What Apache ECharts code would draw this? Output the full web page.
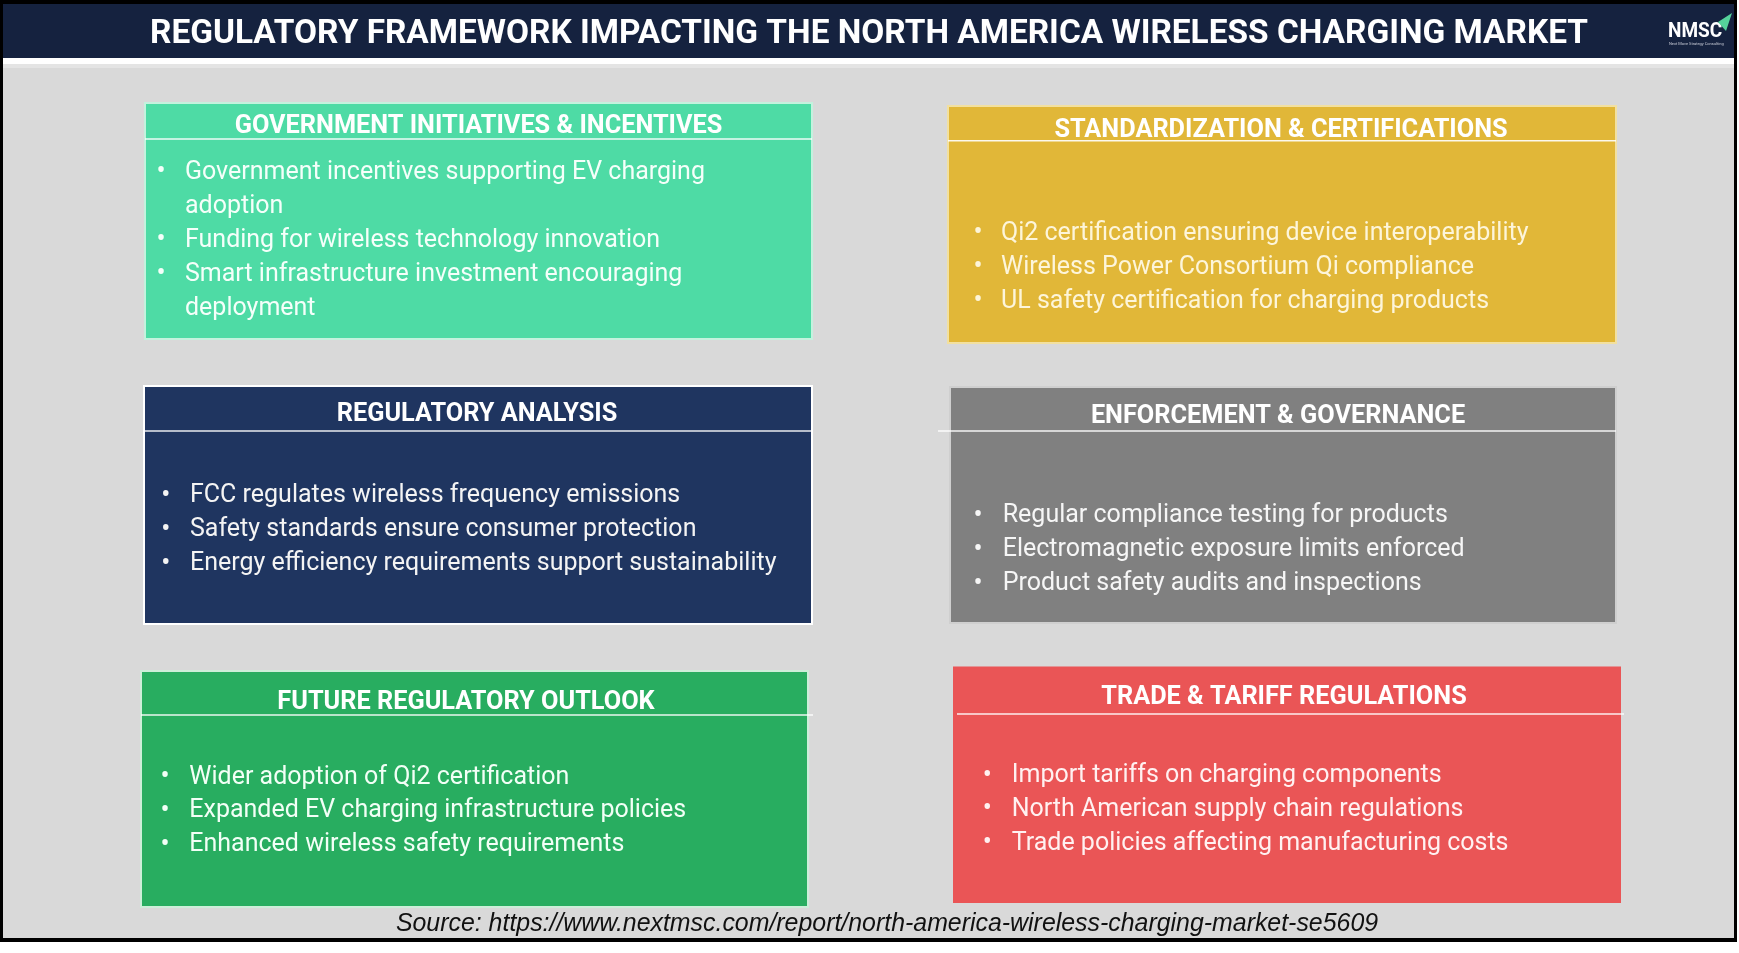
<!DOCTYPE html>
<html><head><meta charset="utf-8">
<script src="https://cdn.jsdelivr.net/npm/echarts@6/dist/echarts.min.js"></script>
<style>html,body{margin:0;padding:0;background:#fff;overflow:hidden}#c{width:1739px;height:953px}</style>
</head><body><div id="c"></div>
<script>
// ---------- content ----------
const titleText = "REGULATORY FRAMEWORK IMPACTING THE NORTH AMERICA WIRELESS CHARGING MARKET";
const sourceText = "Source: https://www.nextmsc.com/report/north-america-wireless-charging-market-se5609";
const logoText = "NMSC";
const logoSub = "Next Move Strategy Consulting";

const boxTitles = [
  "GOVERNMENT INITIATIVES & INCENTIVES",
  "STANDARDIZATION & CERTIFICATIONS",
  "REGULATORY ANALYSIS",
  "ENFORCEMENT & GOVERNANCE",
  "FUTURE REGULATORY OUTLOOK",
  "TRADE & TARIFF REGULATIONS"
];
const govBullets = [
  "Government incentives supporting EV charging adoption",
  "Funding for wireless technology innovation",
  "Smart infrastructure investment encouraging deployment"
];
const stdBullets = [
  "Qi2 certification ensuring device interoperability",
  "Wireless Power Consortium Qi compliance",
  "UL safety certification for charging products"
];
const regBullets = [
  "FCC regulates wireless frequency emissions",
  "Safety standards ensure consumer protection",
  "Energy efficiency requirements support sustainability"
];
const enfBullets = [
  "Regular compliance testing for products",
  "Electromagnetic exposure limits enforced",
  "Product safety audits and inspections"
];
const futBullets = [
  "Wider adoption of Qi2 certification",
  "Expanded EV charging infrastructure policies",
  "Enhanced wireless safety requirements"
];
const trdBullets = [
  "Import tariffs on charging components",
  "North American supply chain regulations",
  "Trade policies affecting manufacturing costs"
];
const bulletLists = [govBullets, stdBullets, regBullets, enfBullets, futBullets, trdBullets];

// ---------- layout & style ----------
const layout = [
  {x:145, y:103,  w:667, h:236, lineY:139,   l0:145, l1:812,  cx:478.5, head:132.7, bx:161,   tx:185,    b0:178.5, gap:34,   tw:590, fill:'#4edba5', stroke:'#c4f2de', txt:'#f5fffa'},
  {x:948, y:106,  w:668, h:237, lineY:140.7, l0:948, l1:1616, cx:1281,  head:136.7, bx:978,   tx:1001,   b0:239.5, gap:34,   tw:600, fill:'#e1b738', stroke:'#f2e0a0', txt:'#fdf5da'},
  {x:144, y:386,  w:668, h:238, lineY:431,   l0:144, l1:812,  cx:477,   head:420.7, bx:165.7, tx:190,    b0:501.7, gap:34,   tw:610, fill:'#1f3560', stroke:'#ffffff', txt:'#f4f4f4'},
  {x:950, y:387,  w:666, h:236, lineY:431,   l0:938, l1:1616, cx:1278,  head:422.7, bx:978,   tx:1002.7, b0:521.7, gap:34.2, tw:600, fill:'#808080', stroke:'#cfcfcf', txt:'#f6f6f6'},
  {x:141, y:671,  w:667, h:236, lineY:715,   l0:141, l1:813,  cx:466,   head:708.3, bx:165,   tx:189.3,  b0:783.3, gap:33.7, tw:600, fill:'#28ad60', stroke:'#cdeed9', txt:'#f2fff6'},
  {x:954, y:667.5,w:666, h:234.5,lineY:714,  l0:957, l1:1624, cx:1284,  head:704,   bx:987.3, tx:1011.7, b0:781.7, gap:33.8, tw:600, fill:'#ea5556', stroke:'#ea5556', txt:'#fff1f1'}
];
const bodyFont = 'Roboto, "Noto Sans", sans-serif';
const bodySize = 25, headSize = 25.3, titleSize = 33.4;

// text wrapping via canvas measurement
const mctx = document.createElement('canvas').getContext('2d');
function wrap(text, font, maxW) {
  mctx.font = font;
  const words = text.split(' ');
  const lines = []; let cur = '';
  words.forEach(w => {
    const t = cur ? cur + ' ' + w : w;
    if (mctx.measureText(t).width > maxW && cur) { lines.push(cur); cur = w; } else cur = t;
  });
  if (cur) lines.push(cur);
  return lines;
}
// baseline -> 'middle' anchor (empirical for this renderer)
const mid = (base, size, k) => base - (k || 0.236) * size;

const g = [];
// frame
g.push({type:'rect', shape:{x:0,y:0,width:1737,height:942}, style:{fill:'#000'}, silent:true});
g.push({type:'rect', shape:{x:3,y:4,width:1731,height:934}, style:{fill:'#d9d9d9'}, silent:true});
g.push({type:'rect', shape:{x:3,y:64,width:1731,height:4}, style:{fill:'#e4e4e4'}, silent:true});
g.push({type:'rect', shape:{x:3,y:58,width:1731,height:6}, style:{fill:'#ffffff'}, silent:true});
g.push({type:'rect', shape:{x:3,y:4,width:1731,height:54}, style:{fill:'#15223f'}, silent:true});
// title
g.push({type:'text', x:869, y:34.2, style:{text:titleText, fill:'#ffffff',
  font:'bold '+titleSize+'px '+bodyFont, align:'center', verticalAlign:'middle'}, silent:true});
// logo
g.push({type:'text', x:1668, y:mid(36.7, 19.5), scaleX:0.95, style:{text:logoText, fill:'#ffffff',
  font:'bold 20px '+bodyFont, align:'left', verticalAlign:'middle'}, silent:true});
g.push({type:'text', x:1669, y:44, style:{text:logoSub, fill:'#c8cbd6',
  font:'4px '+bodyFont, align:'left', verticalAlign:'middle'}, silent:true});
g.push({type:'polygon', shape:{points:[[1718,22],[1732,13],[1726,31]]}, style:{fill:'#55d39b'}, silent:true});
// boxes
layout.forEach((L, i) => {
  g.push({type:'rect', shape:{x:L.x,y:L.y,width:L.w,height:L.h}, style:{fill:L.fill, stroke:L.stroke, lineWidth:2}, silent:true});
  g.push({type:'line', shape:{x1:L.l0,y1:L.lineY,x2:L.l1,y2:L.lineY}, style:{stroke:'rgba(255,255,255,0.9)', lineWidth:1.5}, silent:true});
  g.push({type:'text', x:L.cx, y:mid(L.head, headSize), style:{text:boxTitles[i], fill:'#ffffff',
    font:'bold '+headSize+'px '+bodyFont, align:'center', verticalAlign:'middle'}, silent:true});
  let row = 0;
  const f = bodySize+'px '+bodyFont;
  bulletLists[i].forEach(item => {
    const lines = wrap(item, f, L.tw);
    const by = L.b0 + row * L.gap;
    g.push({type:'text', x:L.bx, y:mid(by, bodySize), style:{text:'•', fill:L.txt,
      font:'27px '+bodyFont, align:'center', verticalAlign:'middle'}, silent:true});
    lines.forEach(ln => {
      g.push({type:'text', x:L.tx, y:mid(L.b0 + row * L.gap, bodySize), style:{text:ln, fill:L.txt,
        font:f, align:'left', verticalAlign:'middle'}, silent:true});
      row++;
    });
  });
});
// source
g.push({type:'text', x:887, y:924.3, style:{text:sourceText, fill:'#111111',
  font:'italic 24.9px "Liberation Sans", Arial, sans-serif', align:'center', verticalAlign:'middle'}, silent:true});

const chart = echarts.init(document.getElementById('c'), null, {renderer:'canvas', width:1739, height:953});
chart.setOption({backgroundColor:'#ffffff', animation:false, graphic:{elements:g}});
</script></body></html>
